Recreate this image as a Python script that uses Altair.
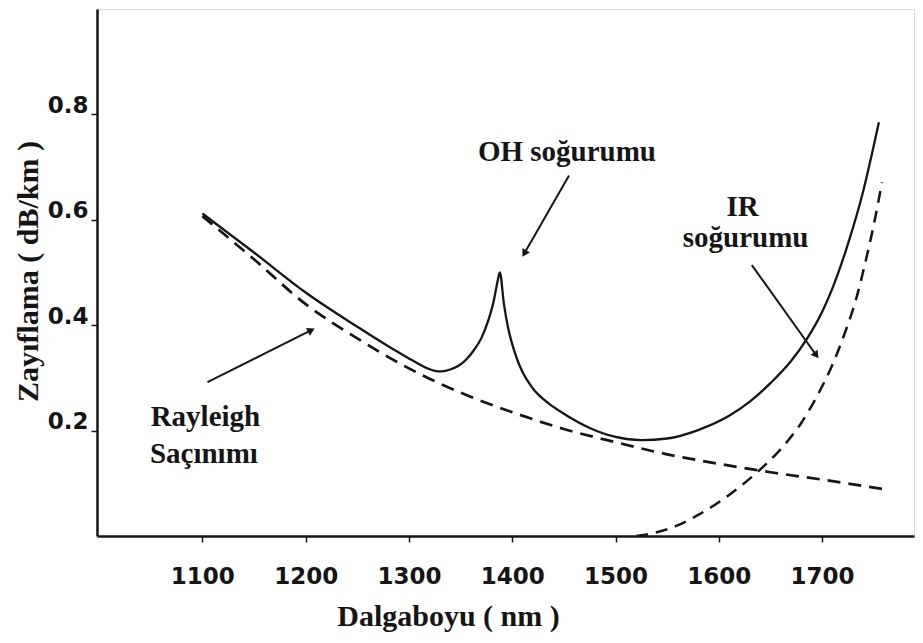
import math
import altair as alt
import pandas as pd

# ---- data ----
total_nm = [1100, 1150, 1200, 1250, 1280, 1300, 1310, 1318, 1325, 1332, 1340, 1348, 1356, 1363,
            1370, 1377, 1382, 1386, 1388, 1392, 1396, 1400, 1405, 1410, 1420, 1435, 1450, 1475,
            1500, 1525, 1550, 1580, 1610, 1630, 1650, 1670, 1685, 1700, 1710, 1726, 1739, 1755]
total_db = [0.612, 0.538, 0.462, 0.397, 0.36, 0.337, 0.326, 0.318, 0.3135, 0.3125, 0.316, 0.323,
            0.336, 0.353, 0.375, 0.41, 0.445, 0.485, 0.50, 0.44, 0.395, 0.364, 0.334, 0.311, 0.28,
            0.252, 0.232, 0.205, 0.188, 0.182, 0.185, 0.201, 0.228, 0.255, 0.29, 0.332, 0.373,
            0.425, 0.47, 0.56, 0.648, 0.785]

rayleigh_nm = [1100, 1150, 1200, 1250, 1300, 1350, 1400, 1450, 1500, 1550, 1600, 1650, 1700, 1762]
rayleigh_db = [0.607, 0.525, 0.44, 0.375, 0.318, 0.272, 0.235, 0.203, 0.178, 0.155, 0.137, 0.121, 0.107, 0.088]

ir_nm = [1520, 1540, 1560, 1580, 1600, 1620, 1640, 1660, 1680, 1695, 1710, 1722, 1733, 1742, 1750, 1758]
ir_db = [0.0, 0.007, 0.02, 0.04, 0.064, 0.093, 0.126, 0.165, 0.215, 0.265, 0.325, 0.385, 0.45, 0.52, 0.59, 0.671]

x_ticks = [1100, 1200, 1300, 1400, 1500, 1600, 1700]
y_ticks = [0.2, 0.4, 0.6, 0.8]

label_text = ["OH soğurumu", "IR", "soğurumu", "Rayleigh", "Saçınımı"]
label_nm = [1453, 1623, 1626, 1103, 1101.5]
label_db = [0.711, 0.607, 0.548, 0.2085, 0.138]

arrow_from_nm = [1105, 1455, 1632]
arrow_from_db = [0.292, 0.684, 0.514]
arrow_to_nm = [1205.5, 1411.7, 1694.4]
arrow_to_db = [0.3905, 0.536, 0.343]

# ---- layout ----
X_DOMAIN = [998, 1789]
Y_DOMAIN = [0, 1.0]
W, H = 817, 527
px_nm = W / (X_DOMAIN[1] - X_DOMAIN[0])
px_db = H / (Y_DOMAIN[1] - Y_DOMAIN[0])

INK = "#151515"
SERIF = "Liberation Serif, Times New Roman, serif"
SANS = "DejaVu Sans"

total = pd.DataFrame({"nm": total_nm, "db": total_db})
rayleigh = pd.DataFrame({"nm": rayleigh_nm, "db": rayleigh_db})
ir = pd.DataFrame({"nm": ir_nm, "db": ir_db})
labels = pd.DataFrame({"t": label_text, "nm": label_nm, "db": label_db})
angles = []
for a, b, c, d in zip(arrow_from_nm, arrow_from_db, arrow_to_nm, arrow_to_db):
    dx = (c - a) * px_nm
    dy = -(d - b) * px_db
    angles.append(math.degrees(math.atan2(dx, -dy)) % 360)
arrows = pd.DataFrame({"x1": arrow_from_nm, "y1": arrow_from_db,
                       "x2": arrow_to_nm, "y2": arrow_to_db, "ang": angles})

x_axis = alt.Axis(values=x_ticks, format="d", title="Dalgaboyu ( nm )", grid=False,
                  labelFont=SANS, labelFontWeight="bold", labelFontSize=23, labelColor=INK,
                  labelPadding=23, tickSize=6, tickColor=INK, tickWidth=1.5,
                  domainColor=INK, domainWidth=2.5,
                  titleFont=SERIF, titleFontWeight="bold", titleFontSize=30, titleColor=INK,
                  titleX=351, titleY=89, titleAlign="center", titleBaseline="alphabetic")
y_axis = alt.Axis(values=y_ticks, format=".1f", title="Zayıflama ( dB/km )", grid=False,
                  labelFont=SANS, labelFontWeight="bold", labelFontSize=23, labelColor=INK,
                  labelPadding=3, labelBaseline="alphabetic", labelOffset=-2,
                  tickSize=6, tickColor=INK, tickWidth=1.5,
                  domainColor=INK, domainWidth=2.5,
                  titleFont=SERIF, titleFontWeight="bold", titleFontSize=30, titleColor=INK,
                  titleAngle=270, titleX=-60, titleY=262, titleAlign="center",
                  titleBaseline="alphabetic")

xs = alt.Scale(domain=X_DOMAIN, nice=False, zero=False)
ys = alt.Scale(domain=Y_DOMAIN, nice=False, zero=False)


def X(field="nm"):
    return alt.X(f"{field}:Q", scale=xs, axis=x_axis)


def Y(field="db"):
    return alt.Y(f"{field}:Q", scale=ys, axis=y_axis)


solid = alt.Chart(total).mark_line(color=INK, strokeWidth=2.3, interpolate="monotone").encode(
    x=X(), y=Y(), order="nm:Q")
ray = alt.Chart(rayleigh).mark_line(color=INK, strokeWidth=2.7, strokeDash=[13, 8],
                                    interpolate="monotone").encode(x=X(), y=Y(), order="nm:Q")
irl = alt.Chart(ir).mark_line(color=INK, strokeWidth=2.5, strokeDash=[12, 8],
                              interpolate="monotone").encode(x=X(), y=Y(), order="nm:Q")

arrow_lines = alt.Chart(arrows).mark_rule(color=INK, strokeWidth=2).encode(
    x=X("x1"), y=Y("y1"), x2="x2:Q", y2="y2:Q")
arrow_heads = alt.Chart(arrows).mark_point(shape="triangle-up", filled=True, color=INK,
                                           size=75, opacity=1).encode(
    x=X("x2"), y=Y("y2"), angle=alt.Angle("ang:Q", scale=None))

texts = alt.Chart(labels).mark_text(font=SERIF, fontWeight="bold", fontSize=29, color=INK,
                                    align="center", baseline="alphabetic").encode(
    x=X(), y=Y(), text="t:N")

chart = alt.layer(solid, ray, irl, arrow_lines, arrow_heads, texts).properties(
    width=W, height=H,
    autosize=alt.AutoSizeParams(type="none"),
    padding={"left": 89, "top": 1, "right": 1, "bottom": 97},
).configure_view(stroke=INK, strokeWidth=2.2).configure(background="white")

chart.save("out.html", embed_options={"renderer": "svg", "actions": False})
